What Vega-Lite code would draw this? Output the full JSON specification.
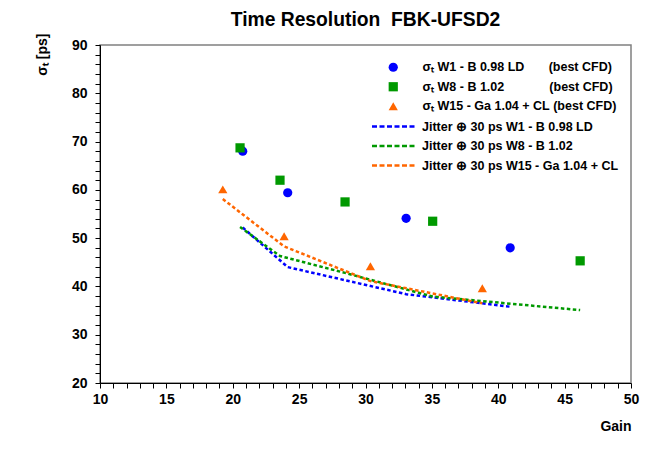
{
  "$schema": "https://vega.github.io/schema/vega-lite/v6.json",
  "width": 531,
  "height": 338,
  "autosize": "none",
  "padding": {"left": 100, "top": 45, "right": 33, "bottom": 68},
  "background": "white",
  "title": {
    "text": "Time Resolution\u00a0 FBK-UFSD2",
    "font": "Liberation Sans",
    "fontWeight": "bold",
    "fontSize": 19.3,
    "color": "black",
    "anchor": "middle",
    "frame": "group",
    "offset": 18,
    "dy": 15
  },
  "config": {
    "view": {"stroke": "#808080", "strokeWidth": 1.5},
    "axis": {
      "labelFont": "Liberation Sans",
      "labelFontWeight": "bold",
      "labelFontSize": 14,
      "labelColor": "black",
      "titleFont": "Liberation Sans",
      "titleFontWeight": "bold",
      "titleFontSize": 14,
      "titleColor": "black",
      "domainColor": "black",
      "tickColor": "black",
      "grid": false,
      "labelOverlap": false,
      "labelFlush": false
    },
    "legend": {
      "labelFont": "Liberation Sans",
      "labelFontWeight": "bold",
      "labelFontSize": 12.5,
      "labelColor": "black",
      "title": null,
      "orient": "none",
      "padding": 0,
      "rowPadding": 6.5,
      "labelLimit": 400
    }
  },
  "datasets": {
    "points": [
      {"series": "σₜ W1 - B 0.98 LD\u00a0\u00a0\u00a0\u00a0\u00a0\u00a0\u00a0(best CFD)", "gain": 20.75, "sigma": 68.0},
      {"series": "σₜ W1 - B 0.98 LD\u00a0\u00a0\u00a0\u00a0\u00a0\u00a0\u00a0(best CFD)", "gain": 24.14, "sigma": 59.4},
      {"series": "σₜ W1 - B 0.98 LD\u00a0\u00a0\u00a0\u00a0\u00a0\u00a0\u00a0(best CFD)", "gain": 33.06, "sigma": 54.1},
      {"series": "σₜ W1 - B 0.98 LD\u00a0\u00a0\u00a0\u00a0\u00a0\u00a0\u00a0(best CFD)", "gain": 40.9, "sigma": 48.0},
      {"series": "σₜ W8 - B 1.02\u00a0\u00a0\u00a0\u00a0\u00a0\u00a0\u00a0\u00a0\u00a0\u00a0\u00a0\u00a0\u00a0(best CFD)", "gain": 20.55, "sigma": 68.7},
      {"series": "σₜ W8 - B 1.02\u00a0\u00a0\u00a0\u00a0\u00a0\u00a0\u00a0\u00a0\u00a0\u00a0\u00a0\u00a0\u00a0(best CFD)", "gain": 23.56, "sigma": 62.0},
      {"series": "σₜ W8 - B 1.02\u00a0\u00a0\u00a0\u00a0\u00a0\u00a0\u00a0\u00a0\u00a0\u00a0\u00a0\u00a0\u00a0(best CFD)", "gain": 28.46, "sigma": 57.5},
      {"series": "σₜ W8 - B 1.02\u00a0\u00a0\u00a0\u00a0\u00a0\u00a0\u00a0\u00a0\u00a0\u00a0\u00a0\u00a0\u00a0(best CFD)", "gain": 35.06, "sigma": 53.5},
      {"series": "σₜ W8 - B 1.02\u00a0\u00a0\u00a0\u00a0\u00a0\u00a0\u00a0\u00a0\u00a0\u00a0\u00a0\u00a0\u00a0(best CFD)", "gain": 46.17, "sigma": 45.3},
      {"series": "σₜ W15 - Ga 1.04 + CL\u00a0(best CFD)", "gain": 19.25, "sigma": 60.1},
      {"series": "σₜ W15 - Ga 1.04 + CL\u00a0(best CFD)", "gain": 23.87, "sigma": 50.4},
      {"series": "σₜ W15 - Ga 1.04 + CL\u00a0(best CFD)", "gain": 30.37, "sigma": 44.2},
      {"series": "σₜ W15 - Ga 1.04 + CL\u00a0(best CFD)", "gain": 38.8, "sigma": 39.6}
    ],
    "jitter": [
      {"series": "Jitter ⊕ 30 ps W1 - B 0.98 LD", "gain": 20.75, "sigma": 52.2},
      {"series": "Jitter ⊕ 30 ps W1 - B 0.98 LD", "gain": 24.14, "sigma": 44.0},
      {"series": "Jitter ⊕ 30 ps W1 - B 0.98 LD", "gain": 33.06, "sigma": 38.4},
      {"series": "Jitter ⊕ 30 ps W1 - B 0.98 LD", "gain": 40.9, "sigma": 35.8},
      {"series": "Jitter ⊕ 30 ps W8 - B 1.02", "gain": 20.55, "sigma": 52.3},
      {"series": "Jitter ⊕ 30 ps W8 - B 1.02", "gain": 23.56, "sigma": 46.3},
      {"series": "Jitter ⊕ 30 ps W8 - B 1.02", "gain": 28.46, "sigma": 42.8},
      {"series": "Jitter ⊕ 30 ps W8 - B 1.02", "gain": 35.06, "sigma": 37.9},
      {"series": "Jitter ⊕ 30 ps W8 - B 1.02", "gain": 46.17, "sigma": 35.1},
      {"series": "Jitter ⊕ 30 ps W15 - Ga 1.04 + CL", "gain": 19.25, "sigma": 58.1},
      {"series": "Jitter ⊕ 30 ps W15 - Ga 1.04 + CL", "gain": 23.87, "sigma": 48.3},
      {"series": "Jitter ⊕ 30 ps W15 - Ga 1.04 + CL", "gain": 30.37, "sigma": 41.1},
      {"series": "Jitter ⊕ 30 ps W15 - Ga 1.04 + CL", "gain": 38.8, "sigma": 36.5}
    ]
  },
  "encoding": {
    "x": {
      "field": "gain",
      "type": "quantitative",
      "scale": {"domain": [10, 50], "nice": false, "zero": false},
      "axis": {
        "title": "Gain",
        "orient": "bottom",
        "titleAnchor": "end",
        "titleAlign": "right",
        "titleBaseline": "alphabetic",
        "titleX": 531,
        "titleY": 47,
        "values": [10, 11, 12, 13, 14, 15, 16, 17, 18, 19, 20, 21, 22, 23, 24, 25, 26, 27, 28, 29, 30, 31, 32, 33, 34, 35, 36, 37, 38, 39, 40, 41, 42, 43, 44, 45, 46, 47, 48, 49, 50],
        "labelExpr": "datum.value % 5 === 0 ? datum.label : ''",
        "labelPadding": 4,
        "tickSize": 5,
        "encode": {
          "ticks": {"update": {"y2": {"signal": "datum.value % 5 === 0 ? -10 : -5"}}}
        }
      }
    },
    "y": {
      "field": "sigma",
      "type": "quantitative",
      "scale": {"domain": [20, 90], "nice": false, "zero": false},
      "axis": {
        "title": "σₜ [ps]",
        "orient": "left",
        "titleAngle": 270,
        "titleAlign": "right",
        "titleBaseline": "middle",
        "titleX": -58,
        "titleY": -12,
        "values": [20, 22, 24, 26, 28, 30, 32, 34, 36, 38, 40, 42, 44, 46, 48, 50, 52, 54, 56, 58, 60, 62, 64, 66, 68, 70, 72, 74, 76, 78, 80, 82, 84, 86, 88, 90],
        "labelExpr": "datum.value % 10 === 0 ? datum.label : ''",
        "labelPadding": 8,
        "tickSize": 5,
        "encode": {
          "ticks": {"update": {"x2": {"signal": "datum.value % 10 === 0 ? 16 : 8"}}}
        }
      }
    }
  },
  "layer": [
    {
      "data": {"name": "jitter"},
      "mark": {"type": "line", "strokeWidth": 2.5, "strokeDash": [3.5, 2.5]},
      "encoding": {
        "stroke": {
          "field": "series",
          "type": "nominal",
          "scale": {
            "domain": [
              "Jitter ⊕ 30 ps W1 - B 0.98 LD",
              "Jitter ⊕ 30 ps W8 - B 1.02",
              "Jitter ⊕ 30 ps W15 - Ga 1.04 + CL"
            ],
            "range": ["#0000ff", "#009900", "#ff6600"]
          },
          "legend": {
            "legendX": 287,
            "legendY": 75,
            "symbolType": "M-4.3,0H4.3",
            "symbolSize": 100,
            "symbolStrokeWidth": 2.5,
            "symbolDash": [5, 2.5],
            "symbolFillColor": "transparent",
            "labelOffset": 22
          }
        }
      }
    },
    {
      "data": {"name": "points"},
      "mark": {"type": "point", "filled": true, "opacity": 1, "size": 85},
      "encoding": {
        "fill": {
          "field": "series",
          "type": "nominal",
          "scale": {
            "domain": [
              "σₜ W1 - B 0.98 LD\u00a0\u00a0\u00a0\u00a0\u00a0\u00a0\u00a0(best CFD)",
              "σₜ W8 - B 1.02\u00a0\u00a0\u00a0\u00a0\u00a0\u00a0\u00a0\u00a0\u00a0\u00a0\u00a0\u00a0\u00a0(best CFD)",
              "σₜ W15 - Ga 1.04 + CL\u00a0(best CFD)"
            ],
            "range": ["#0000ff", "#009900", "#ff6600"]
          },
          "legend": {
            "legendX": 287,
            "legendY": 16,
            "symbolSize": 85,
            "symbolStrokeWidth": 0,
            "symbolOpacity": 1,
            "labelOffset": 23
          }
        },
        "shape": {
          "field": "series",
          "type": "nominal",
          "scale": {
            "domain": [
              "σₜ W1 - B 0.98 LD\u00a0\u00a0\u00a0\u00a0\u00a0\u00a0\u00a0(best CFD)",
              "σₜ W8 - B 1.02\u00a0\u00a0\u00a0\u00a0\u00a0\u00a0\u00a0\u00a0\u00a0\u00a0\u00a0\u00a0\u00a0(best CFD)",
              "σₜ W15 - Ga 1.04 + CL\u00a0(best CFD)"
            ],
            "range": ["circle", "square", "triangle-up"]
          },
          "legend": {
            "legendX": 287,
            "legendY": 16,
            "symbolSize": 85,
            "symbolStrokeWidth": 0,
            "symbolOpacity": 1,
            "labelOffset": 23
          }
        }
      }
    }
  ]
}
